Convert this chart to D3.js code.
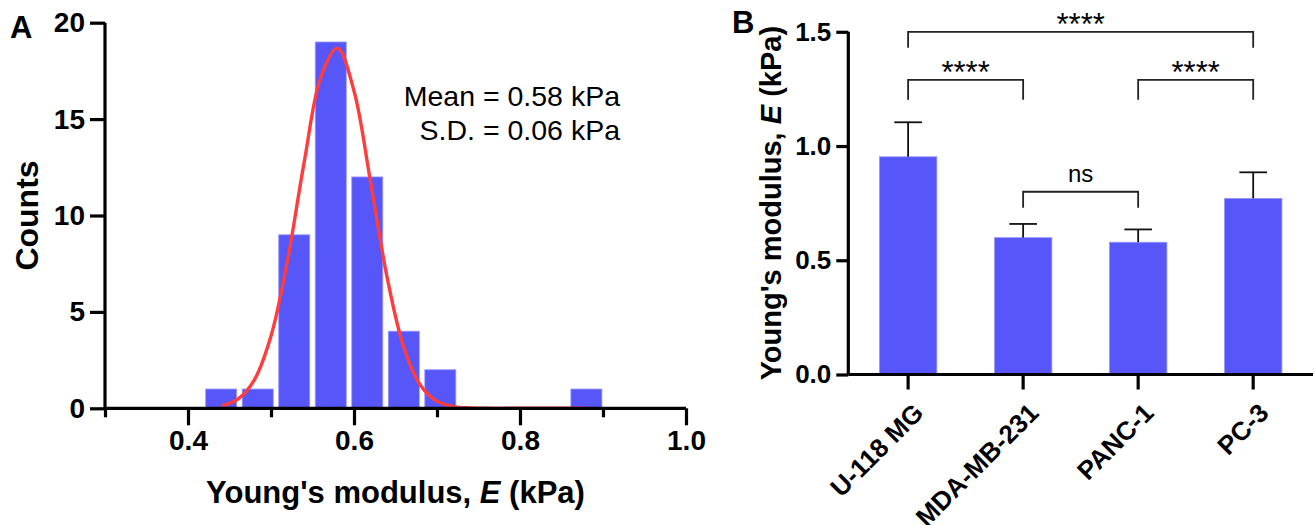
<!DOCTYPE html>
<html>
<head>
<meta charset="utf-8">
<script src="https://cdn.jsdelivr.net/npm/d3@7/dist/d3.min.js"></script>
<style>
  html, body { margin: 0; padding: 0; background: #ffffff; }
  svg { display: block; }
  text { font-family: "Liberation Sans", Arial, Helvetica, sans-serif; fill: #000; }
</style>
</head>
<body>
<svg id="chart" width="1314" height="525"></svg>
<script>
// ---------------- DATA ----------------
// Panel A: histogram of Young's modulus (kPa)
const binCenters = [0.44, 0.484, 0.528, 0.572, 0.616, 0.66, 0.704, 0.748, 0.792, 0.836, 0.88];
const binCounts  = [1, 1, 9, 19, 12, 4, 2, 0, 0, 0, 1];
const binWidth = 0.044;
// Gaussian fit curve (x in kPa, y in counts)
const fitX = [0.44, 0.46, 0.48, 0.50, 0.52, 0.54, 0.56, 0.58, 0.60, 0.62, 0.64, 0.66, 0.68, 0.70, 0.72, 0.74, 0.76, 0.80, 0.84, 0.88];
const fitY = [0.12, 0.47, 1.48, 3.75, 7.69, 12.77, 17.17, 18.68, 16.46, 11.73, 6.77, 3.16, 1.20, 0.37, 0.09, 0.02, 0.0, 0.0, 0.0, 0.0];
const histXTicks = [0.4, 0.6, 0.8, 1.0];
const histXMinor = [0.3, 0.5, 0.7, 0.9];
const histYTicks = [0, 5, 10, 15, 20];
const statLines = ["Mean = 0.58 kPa", "S.D. = 0.06 kPa"];

// Panel B: mean ± SD per cell line
const cellLines = ["U-118 MG", "MDA-MB-231", "PANC-1", "PC-3"];
const meanE = [0.953, 0.599, 0.579, 0.771];
const sdE   = [0.151, 0.060, 0.056, 0.114];
const barYTicks = [0.0, 0.5, 1.0, 1.5];
// significance brackets: [from index, to index, level (kPa), label]
const sigFrom  = [0, 0, 2, 1];
const sigTo    = [3, 1, 3, 2];
const sigLevel = [1.50, 1.29, 1.29, 0.80];
const sigLabel = ["****", "****", "****", "ns"];

// ---------------- STYLE ----------------
const BLUE = "#5757f9";
const RED = "#ff3d3d";
const FONT = "'Liberation Sans', Arial, Helvetica, sans-serif";

const svg = d3.select("#chart");
svg.append("rect").attr("width", 1314).attr("height", 525).attr("fill", "#fff");

// =============== PANEL A ===============
const xA = d3.scaleLinear().domain([0.3, 1.0]).range([105, 686]);
const yA = d3.scaleLinear().domain([0, 20]).range([408.3, 22.7]);
const gA = svg.append("g");

// bars
gA.selectAll("rect.hist")
  .data(binCenters.map((c, i) => ({c, n: binCounts[i]})).filter(d => d.n > 0))
  .join("rect")
  .attr("class", "hist")
  .attr("x", d => xA(d.c - binWidth * 0.425))
  .attr("width", d => xA(d.c + binWidth * 0.425) - xA(d.c - binWidth * 0.425))
  .attr("y", d => yA(d.n))
  .attr("height", d => yA(0) - yA(d.n))
  .attr("fill", BLUE)
  .attr("stroke", "#9a9aff")
  .attr("stroke-width", 0.8);

// fit curve
const fitLine = d3.line().x((d, i) => xA(fitX[i])).y(d => yA(d)).curve(d3.curveCatmullRom.alpha(0.5));
gA.append("path")
  .attr("d", fitLine(fitY))
  .attr("fill", "none")
  .attr("stroke", RED)
  .attr("stroke-width", 3.4);

// y axis
const yAxisA = d3.axisLeft(yA).tickValues(histYTicks).tickSize(15).tickPadding(5).tickFormat(d3.format("d"));
const gyA = gA.append("g").attr("transform", `translate(${xA(0.3)},0)`).call(yAxisA);
// x axis major
const xAxisA = d3.axisBottom(xA).tickValues(histXTicks).tickSize(17).tickPadding(5).tickFormat(d3.format(".1f"));
const gxA = gA.append("g").attr("transform", `translate(0,${yA(0)})`).call(xAxisA);
// x axis minor
const xAxisAm = d3.axisBottom(xA).tickValues(histXMinor).tickSize(9).tickFormat("");
const gxAm = gA.append("g").attr("transform", `translate(0,${yA(0)})`).call(xAxisAm);
gxAm.select(".domain").remove();

[gyA, gxA, gxAm].forEach(g => {
  g.select(".domain").attr("stroke", "#000").attr("stroke-width", 3.2);
  g.selectAll(".tick line").attr("stroke", "#000").attr("stroke-width", 3.2);
  g.selectAll(".tick text").attr("font-family", FONT).attr("font-weight", "bold").attr("font-size", 28).attr("fill", "#000");
});
gyA.select(".domain").attr("d", `M0,${yA(20)}V${yA(0)}`);
gxA.select(".domain").attr("d", `M${xA(0.3)},0H${xA(1.0)}`);

// axis titles
gA.append("text")
  .attr("transform", `translate(38,${yA(10)}) rotate(-90)`)
  .attr("text-anchor", "middle")
  .attr("font-weight", "bold").attr("font-size", 32)
  .text("Counts");
const tA = gA.append("text")
  .attr("x", xA(0.65)).attr("y", 503)
  .attr("text-anchor", "middle")
  .attr("font-weight", "bold").attr("font-size", 31);
tA.append("tspan").text("Young's modulus, ");
tA.append("tspan").attr("font-style", "italic").text("E");
tA.append("tspan").text(" (kPa)");

// stats
gA.selectAll("text.stat")
  .data(statLines)
  .join("text")
  .attr("class", "stat")
  .attr("x", 620)
  .attr("y", (d, i) => 106 + i * 34)
  .attr("text-anchor", "end")
  .attr("font-size", 28.5)
  .text(d => d);

// panel letter
svg.append("text").attr("x", 10).attr("y", 38).attr("font-weight", "bold").attr("font-size", 31).text("A");

// =============== PANEL B ===============
const xB = d3.scaleBand().domain(cellLines).range([848.3, 1313]).paddingInner(0.5).paddingOuter(0.27);
const yB = d3.scaleLinear().domain([0, 1.5]).range([374.5, 31.8]);
const gB = svg.append("g");
const cx = i => xB(cellLines[i]) + xB.bandwidth() / 2;

gB.selectAll("rect.bar")
  .data(cellLines)
  .join("rect")
  .attr("class", "bar")
  .attr("x", d => xB(d))
  .attr("width", xB.bandwidth())
  .attr("y", (d, i) => yB(meanE[i]))
  .attr("height", (d, i) => yB(0) - yB(meanE[i]))
  .attr("fill", BLUE)
  .attr("stroke", "#9a9aff")
  .attr("stroke-width", 0.8);

// error bars (upper only)
const capHalf = xB.bandwidth() * 0.24;
cellLines.forEach((d, i) => {
  gB.append("line")
    .attr("x1", cx(i)).attr("x2", cx(i))
    .attr("y1", yB(meanE[i])).attr("y2", yB(meanE[i] + sdE[i]))
    .attr("stroke", "#111").attr("stroke-width", 1.8);
  gB.append("line")
    .attr("x1", cx(i) - capHalf).attr("x2", cx(i) + capHalf)
    .attr("y1", yB(meanE[i] + sdE[i])).attr("y2", yB(meanE[i] + sdE[i]))
    .attr("stroke", "#111").attr("stroke-width", 1.8);
});

// axes
const yAxisB = d3.axisLeft(yB).tickValues(barYTicks).tickSize(12).tickPadding(5).tickFormat(d3.format(".1f"));
const gyB = gB.append("g").attr("transform", `translate(848.3,0)`).call(yAxisB);
const xAxisB = d3.axisBottom(xB).tickSize(15).tickFormat("");
const gxB = gB.append("g").attr("transform", `translate(0,${yB(0)})`).call(xAxisB);
[gyB, gxB].forEach(g => {
  g.select(".domain").attr("stroke", "#000").attr("stroke-width", 3.2);
  g.selectAll(".tick line").attr("stroke", "#000").attr("stroke-width", 3.2);
  g.selectAll(".tick text").attr("font-family", FONT).attr("font-weight", "bold").attr("font-size", 26).attr("fill", "#000");
});
gyB.select(".domain").attr("d", `M0,${yB(1.5)}V${yB(0)}`);
gxB.select(".domain").attr("d", `M848.3,0H1313`);

// category labels rotated
gB.selectAll("text.cat")
  .data(cellLines)
  .join("text")
  .attr("class", "cat")
  .attr("transform", (d, i) => `translate(${cx(i) + 17},${yB(0) + 40}) rotate(-45)`)
  .attr("text-anchor", "end")
  .attr("font-weight", "bold").attr("font-size", 26)
  .text(d => d);

// y title
const tB = gB.append("text")
  .attr("transform", `translate(781,${yB(0.75)}) rotate(-90)`)
  .attr("text-anchor", "middle")
  .attr("font-weight", "bold").attr("font-size", 29);
tB.append("tspan").text("Young's modulus, ");
tB.append("tspan").attr("font-style", "italic").text("E");
tB.append("tspan").text(" (kPa)");

// significance brackets
sigLabel.forEach((lab, k) => {
  const x1 = cx(sigFrom[k]), x2 = cx(sigTo[k]);
  const y = yB(sigLevel[k]);
  const drop = lab === "ns" ? 16 : (k === 0 ? 16 : 20);
  gB.append("path")
    .attr("d", `M${x1},${y + drop}V${y}H${x2}V${y + drop}`)
    .attr("fill", "none").attr("stroke", "#222").attr("stroke-width", 1.8);
  gB.append("text")
    .attr("x", (x1 + x2) / 2)
    .attr("y", lab === "ns" ? y - 10 : y + 3)
    .attr("text-anchor", "middle")
    .attr("font-size", lab === "ns" ? 24 : 31)
    .text(lab);
});

svg.append("text").attr("x", 732).attr("y", 33).attr("font-weight", "bold").attr("font-size", 31).text("B");
</script>
</body>
</html>
